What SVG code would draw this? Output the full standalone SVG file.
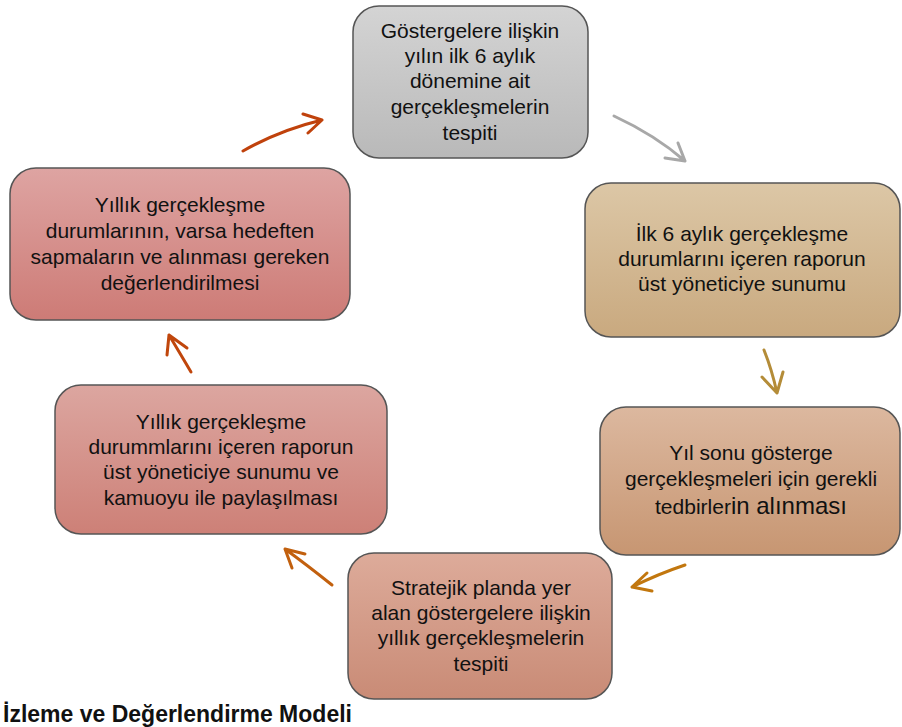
<svg xmlns="http://www.w3.org/2000/svg" width="902" height="727" viewBox="0 0 902 727">
<defs>
<linearGradient id="g1" x1="0" y1="0" x2="0" y2="1"><stop offset="0" stop-color="#d4d4d4"/><stop offset="1" stop-color="#b9b9b9"/></linearGradient>
<linearGradient id="g2" x1="0" y1="0" x2="0" y2="1"><stop offset="0" stop-color="#dcc7a6"/><stop offset="1" stop-color="#c9a97f"/></linearGradient>
<linearGradient id="g3" x1="0" y1="0" x2="0" y2="1"><stop offset="0" stop-color="#dcb89f"/><stop offset="1" stop-color="#c79672"/></linearGradient>
<linearGradient id="g4" x1="0" y1="0" x2="0" y2="1"><stop offset="0" stop-color="#ddab9a"/><stop offset="1" stop-color="#c98b76"/></linearGradient>
<linearGradient id="g5" x1="0" y1="0" x2="0" y2="1"><stop offset="0" stop-color="#dca6a0"/><stop offset="1" stop-color="#cd8077"/></linearGradient>
<linearGradient id="g6" x1="0" y1="0" x2="0" y2="1"><stop offset="0" stop-color="#dea4a2"/><stop offset="1" stop-color="#cd7b76"/></linearGradient>
</defs>
<style>
.box{stroke:#555555;stroke-width:1.5}
.t{font-family:"Liberation Sans",Arial,sans-serif;font-size:21px;fill:#111;text-anchor:middle}
.arr{fill:none;stroke-width:3;stroke-linecap:round;stroke-linejoin:round}
.title{font-family:"Liberation Sans",Arial,sans-serif;font-size:23px;font-weight:bold;fill:#111}
</style>
<rect width="902" height="727" fill="#ffffff"/>
<g id="node1">
<rect class="box" x="353" y="6" width="235" height="152" rx="26" fill="url(#g1)"/>
<text class="t" x="470" y="38">Göstergelere ilişkin</text>
<text class="t" x="470" y="63">yılın ilk 6 aylık</text>
<text class="t" x="470" y="88">dönemine ait</text>
<text class="t" x="470" y="114">gerçekleşmelerin</text>
<text class="t" x="470" y="140">tespiti</text>
</g>
<g id="node2">
<rect class="box" x="585" y="183" width="315" height="154" rx="26" fill="url(#g2)"/>
<text class="t" x="742" y="241">İlk 6 aylık gerçekleşme</text>
<text class="t" x="742" y="266">durumlarını içeren raporun</text>
<text class="t" x="742" y="291">üst yöneticiye sunumu</text>
</g>
<g id="node3">
<rect class="box" x="600" y="407" width="300" height="148" rx="26" fill="url(#g3)"/>
<text class="t" x="751" y="460">Yıl sonu gösterge</text>
<text class="t" x="751" y="486">gerçekleşmeleri için gerekli</text>
<text class="t" x="751" y="514">tedbirler<tspan font-size="24px">in alınması</tspan></text>
</g>
<g id="node4">
<rect class="box" x="348" y="553" width="264" height="146" rx="26" fill="url(#g4)"/>
<text class="t" x="481" y="595">Stratejik planda yer</text>
<text class="t" x="481" y="620">alan göstergelere ilişkin</text>
<text class="t" x="481" y="645">yıllık gerçekleşmelerin</text>
<text class="t" x="481" y="671">tespiti</text>
</g>
<g id="node5">
<rect class="box" x="55" y="385" width="332" height="149" rx="26" fill="url(#g5)"/>
<text class="t" x="221" y="429">Yıllık gerçekleşme</text>
<text class="t" x="221" y="454">durummlarını içeren raporun</text>
<text class="t" x="221" y="479">üst yöneticiye sunumu ve</text>
<text class="t" x="221" y="505">kamuoyu ile paylaşılması</text>
</g>
<g id="node6">
<rect class="box" x="10" y="168" width="340" height="152" rx="26" fill="url(#g6)"/>
<text class="t" x="180" y="212">Yıllık gerçekleşme</text>
<text class="t" x="180" y="238">durumlarının, varsa hedeften</text>
<text class="t" x="180" y="264">sapmaların ve alınması gereken</text>
<text class="t" x="180" y="290">değerlendirilmesi</text>
</g>
<g id="connectors">
<path class="arr" stroke="#c0420c" d="M243 151 Q280 130 322 120 M303 114 L322 120 L308 133"/>
<path class="arr" stroke="#a8a8a8" d="M614 116 Q655 135 685 161 M678 143 L685 161 L665 158"/>
<path class="arr" stroke="#b48c38" d="M764 350 Q772 370 777 393 M783 372 L777 393 L762 377"/>
<path class="arr" stroke="#c2770e" d="M685 565 Q658 574 632 587 M647 573 L632 587 L652 591"/>
<path class="arr" stroke="#c2600e" d="M332 585 Q307 565 285 549 M305 554 L285 549 L292 568"/>
<path class="arr" stroke="#c0460c" d="M191 372 Q181 355 169 335 M187 348 L169 335 L167 355"/>
</g>
<text class="title" x="3" y="722">İzleme ve Değerlendirme Modeli</text>
</svg>
